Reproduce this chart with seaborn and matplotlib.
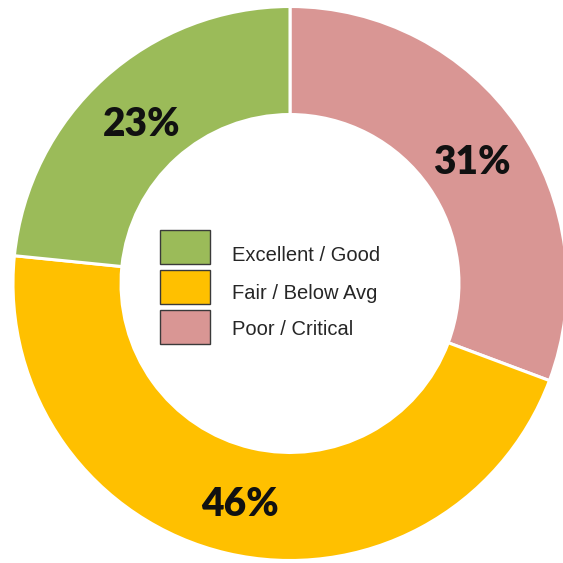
import numpy as np
import matplotlib
matplotlib.use("Agg")
import matplotlib.pyplot as plt
from matplotlib.patches import Patch
from matplotlib.transforms import ScaledTranslation
import seaborn as sns

sns.set_theme(style="white")

# condition share, read from the ring (labels are rounded)
labels = ["Poor / Critical", "Fair / Below Avg", "Excellent / Good"]
shares = [30.7, 45.9, 23.4]
colors = ["#D99694", "#FFC000", "#9BBB59"]
legend_order = ["Excellent / Good", "Fair / Below Avg", "Poor / Critical"]

fig = plt.figure(figsize=(5.63, 5.63), dpi=100)
ax = fig.add_axes([0, 0, 1, 1])

wedges, texts, autotexts = ax.pie(
    shares, colors=colors, startangle=90, counterclock=False,
    radius=1.0, pctdistance=0.8,
    autopct=lambda p: "%d%%" % round(p),
    wedgeprops=dict(width=0.39, edgecolor="white", linewidth=2.2),
)
for t in autotexts:
    t.set_fontfamily("Lato")
    t.set_fontweight("heavy")
    t.set_fontsize(28)
    t.set_color("#111111")
    x, y = t.get_position()
    t.set_position((x, y - 0.02))

# put the ring where it sits in the picture (centre 290,283 px, r 277 px)
ax.set_xlim(-290 / 277, 273 / 277)
ax.set_ylim(-279.5 / 277, 283.5 / 277)
ax.axis("off")

handles = []
for name in legend_order:
    c = colors[labels.index(name)]
    handles.append(Patch(facecolor=c, edgecolor="#3a3a3a", linewidth=1.0, label=name))

leg = ax.legend(
    handles=handles, loc="upper left",
    bbox_to_anchor=(160 / 563, 1 - 230 / 563), bbox_transform=fig.transFigure,
    frameon=False, borderpad=0, borderaxespad=0,
    handlelength=2.5, handleheight=2.25, labelspacing=0.28, handletextpad=1.1,
    prop={"family": "Liberation Sans", "size": 14.5},
)
# the labels sit a little lower than the box middles in the original
shift_px = [8, 6, 1]
for t, s in zip(leg.get_texts(), shift_px):
    t.set_color("#262626")
    t.set_transform(t.get_transform() + ScaledTranslation(0, -s / 100, fig.dpi_scale_trans))

fig.savefig("out.png", dpi=100)
